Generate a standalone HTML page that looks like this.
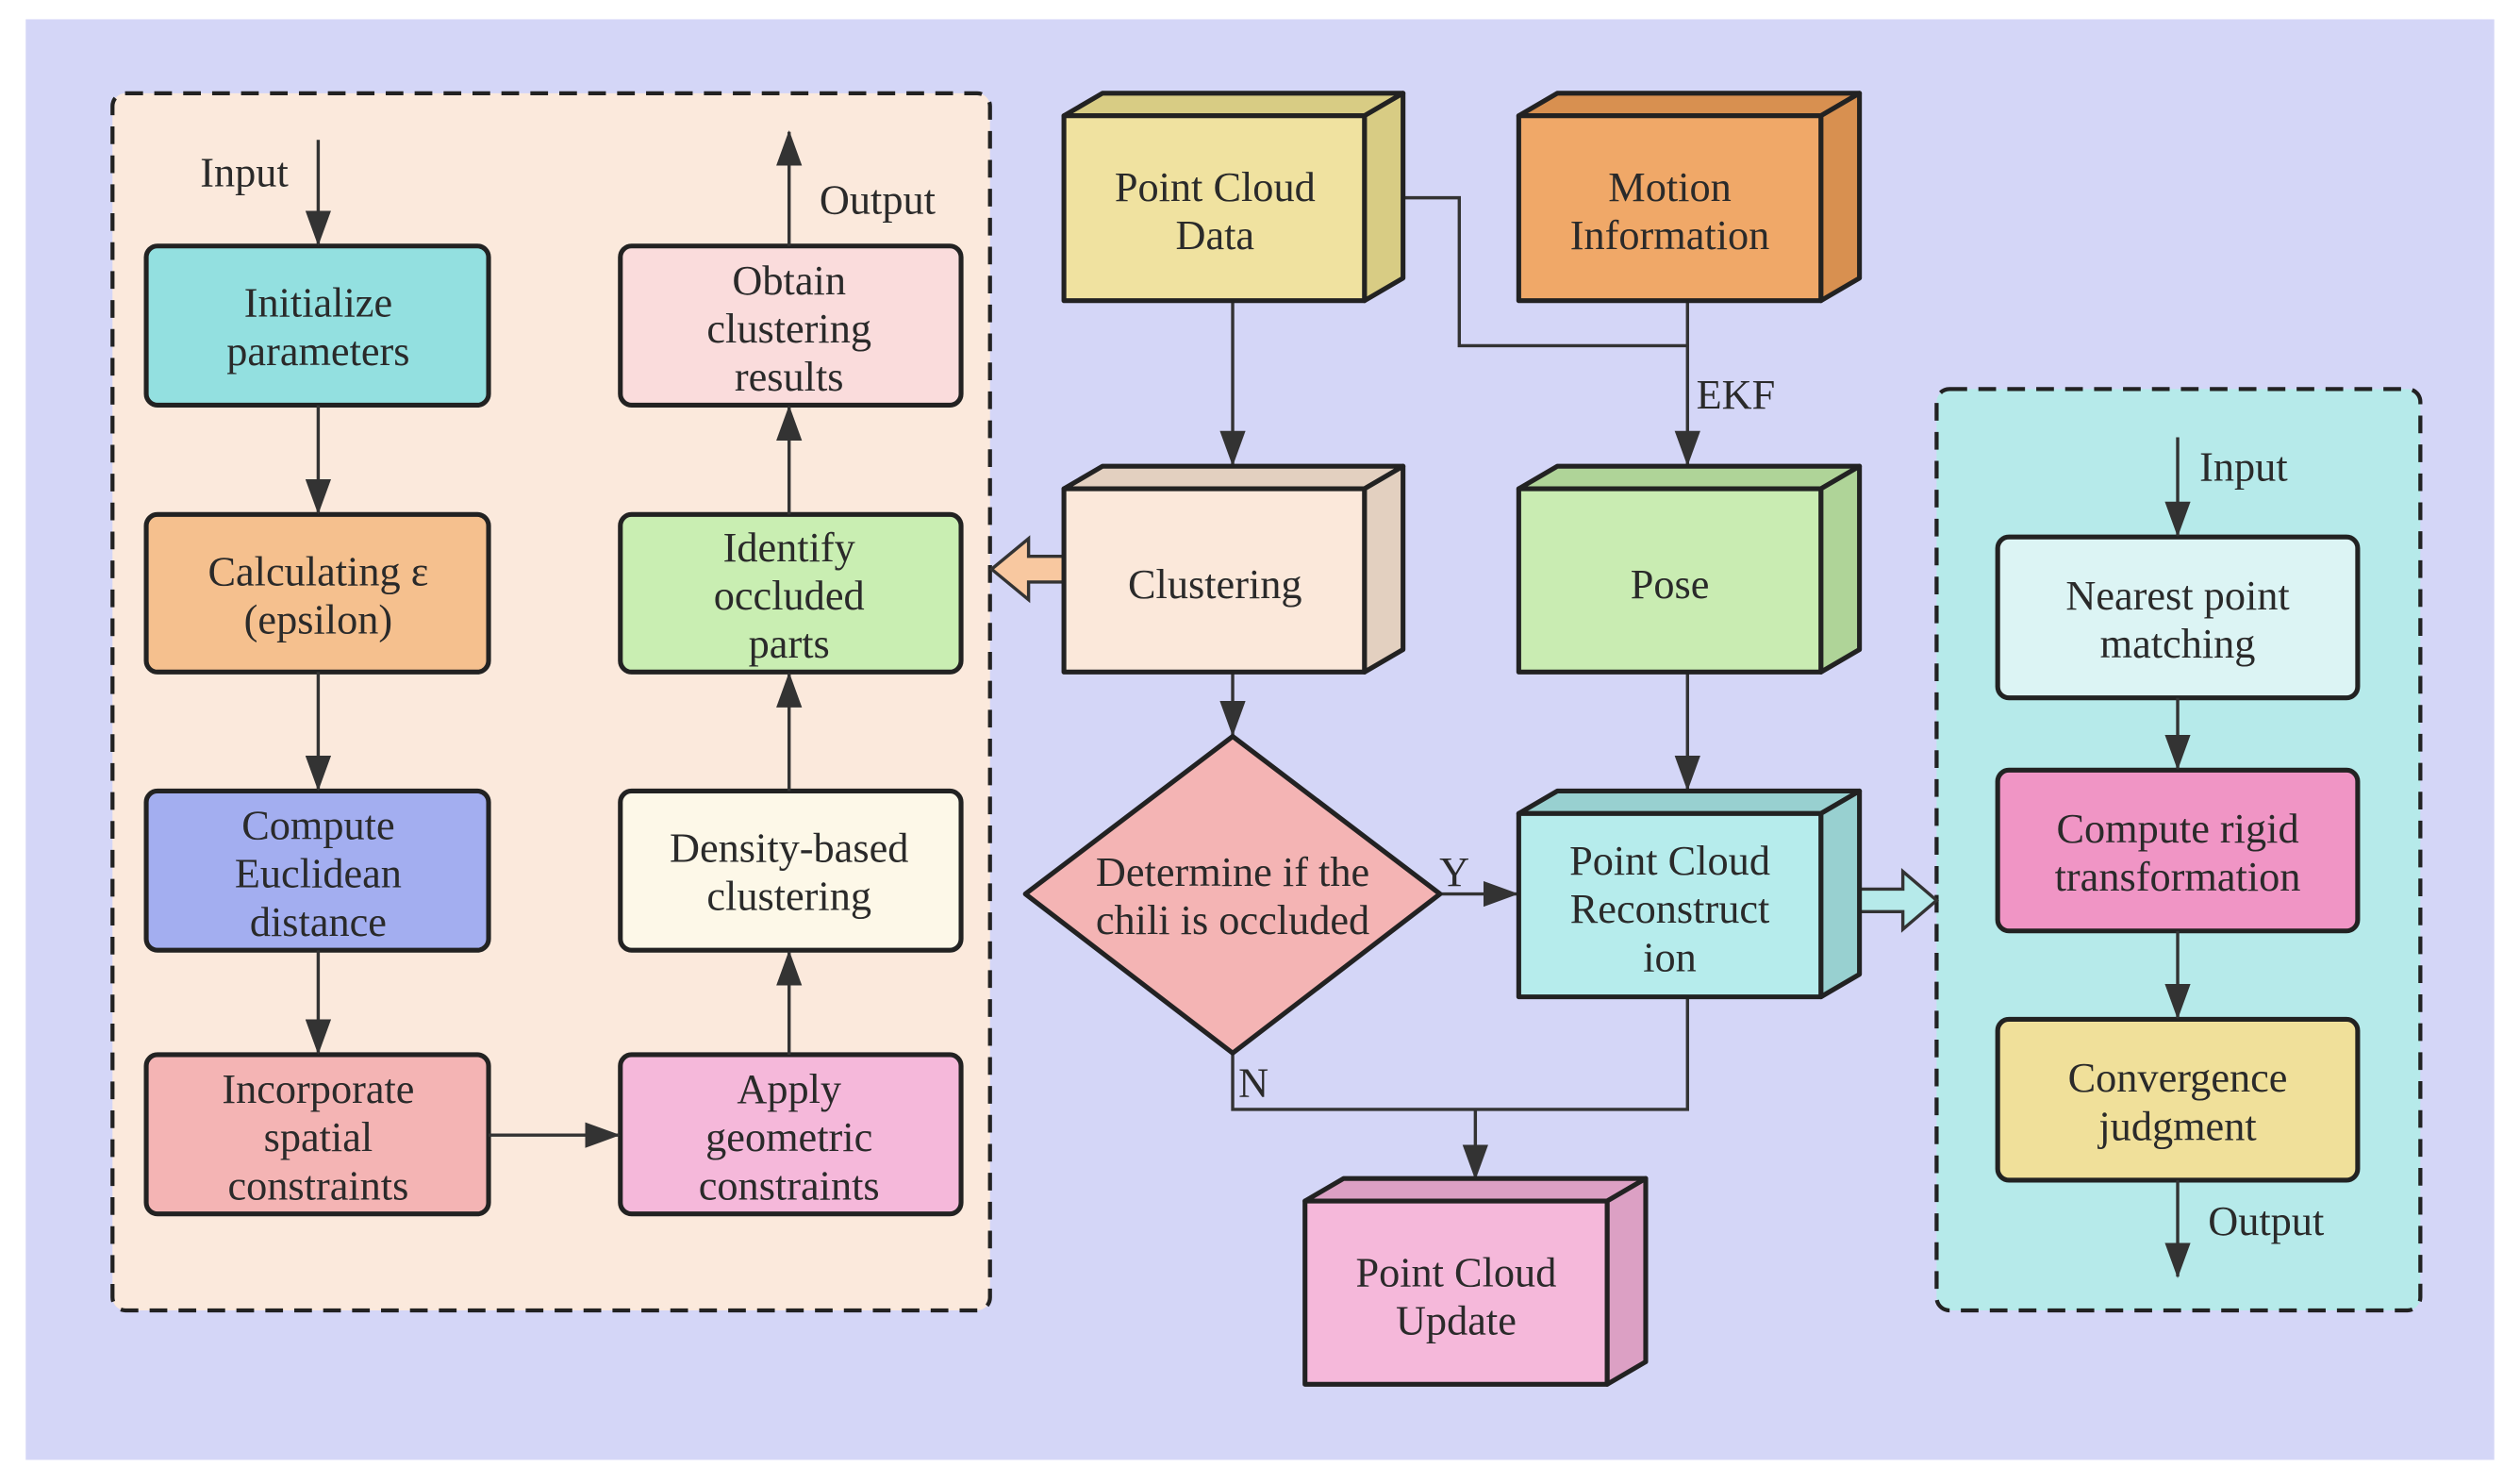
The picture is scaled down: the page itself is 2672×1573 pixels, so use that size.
<!DOCTYPE html>
<html><head><meta charset="utf-8"><style>
html,body{margin:0;padding:0;background:#fff;}
svg{display:block;}
text{font-family:"Liberation Serif",serif;font-size:26px;fill:#2a2a2a;text-anchor:middle;}
</style></head><body>
<svg width="2672" height="1573" viewBox="0 0 1568 923" preserveAspectRatio="none" xmlns="http://www.w3.org/2000/svg">
<defs>
<marker id="b" markerWidth="22" markerHeight="16" refX="21" refY="8" orient="auto" markerUnits="userSpaceOnUse" viewBox="0 0 22 16"><path d="M0,0 L22,8 L0,16 z" fill="#333"/></marker>
</defs>
<rect x="0" y="0" width="1568" height="923" fill="#fff"/>
<rect x="16" y="12" width="1536" height="896" fill="#d4d6f7"/>

<rect x="70" y="58" width="546" height="757" rx="8" fill="#fbe9dc" stroke="#222" stroke-width="2.5" stroke-dasharray="11,7"/>
<g stroke="#222" stroke-width="3">
<rect x="91" y="153" width="213" height="99" rx="7" fill="#93e0e0"/>
<rect x="91" y="320" width="213" height="98" rx="7" fill="#f5c08e"/>
<rect x="91" y="492" width="213" height="99" rx="7" fill="#a3aef0"/>
<rect x="91" y="656" width="213" height="99" rx="7" fill="#f4b4b4"/>
<rect x="386" y="153" width="212" height="99" rx="7" fill="#fadcdc"/>
<rect x="386" y="320" width="212" height="98" rx="7" fill="#c9eeb2"/>
<rect x="386" y="492" width="212" height="99" rx="7" fill="#fdf8e8"/>
<rect x="386" y="656" width="212" height="99" rx="7" fill="#f5b8da"/>
</g>
<g stroke="#333" stroke-width="2" fill="none">
<line x1="198" y1="87" x2="198" y2="152" marker-end="url(#b)"/>
<line x1="198" y1="252" x2="198" y2="319" marker-end="url(#b)"/>
<line x1="198" y1="418" x2="198" y2="491" marker-end="url(#b)"/>
<line x1="198" y1="591" x2="198" y2="655" marker-end="url(#b)"/>
<line x1="304" y1="706" x2="385" y2="706" marker-end="url(#b)"/>
<line x1="491" y1="656" x2="491" y2="592" marker-end="url(#b)"/>
<line x1="491" y1="492" x2="491" y2="419" marker-end="url(#b)"/>
<line x1="491" y1="320" x2="491" y2="253" marker-end="url(#b)"/>
<line x1="491" y1="153" x2="491" y2="82" marker-end="url(#b)"/>
</g>
<text x="152" y="116">Input</text>
<text x="546" y="133">Output</text>
<text x="198" y="197">Initialize</text><text x="198" y="227">parameters</text>
<text x="198" y="364">Calculating ε</text><text x="198" y="394">(epsilon)</text>
<text x="198" y="522">Compute</text><text x="198" y="552">Euclidean</text><text x="198" y="582">distance</text>
<text x="198" y="686">Incorporate</text><text x="198" y="716">spatial</text><text x="198" y="746">constraints</text>
<text x="491" y="183">Obtain</text><text x="491" y="213">clustering</text><text x="491" y="243">results</text>
<text x="491" y="349">Identify</text><text x="491" y="379">occluded</text><text x="491" y="409">parts</text>
<text x="491" y="536">Density-based</text><text x="491" y="566">clustering</text>
<text x="491" y="686">Apply</text><text x="491" y="716">geometric</text><text x="491" y="746">constraints</text>

<rect x="1205" y="242" width="301" height="573" rx="8" fill="#b6eaea" stroke="#222" stroke-width="2.5" stroke-dasharray="11,7"/>
<g stroke="#222" stroke-width="3">
<rect x="1243" y="334" width="224" height="100" rx="7" fill="#dcf4f4"/>
<rect x="1243" y="479" width="224" height="100" rx="7" fill="#f095c5"/>
<rect x="1243" y="634" width="224" height="100" rx="7" fill="#f0e09a"/>
</g>
<g stroke="#333" stroke-width="2" fill="none">
<line x1="1355" y1="272" x2="1355" y2="333" marker-end="url(#b)"/>
<line x1="1355" y1="434" x2="1355" y2="478" marker-end="url(#b)"/>
<line x1="1355" y1="579" x2="1355" y2="633" marker-end="url(#b)"/>
<line x1="1355" y1="734" x2="1355" y2="794" marker-end="url(#b)"/>
</g>
<text x="1396" y="299">Input</text>
<text x="1410" y="768">Output</text>
<text x="1355" y="379">Nearest point</text><text x="1355" y="409">matching</text>
<text x="1355" y="524">Compute rigid</text><text x="1355" y="554">transformation</text>
<text x="1355" y="679">Convergence</text><text x="1355" y="709">judgment</text>

<g stroke="#333" stroke-width="2" fill="none">
<line x1="767" y1="187" x2="767" y2="289" marker-end="url(#b)"/>
<polyline points="873,123 908,123 908,215 1050,215"/>
<line x1="1050" y1="187" x2="1050" y2="289" marker-end="url(#b)"/>
<line x1="767" y1="418" x2="767" y2="457" marker-end="url(#b)"/>
<line x1="896" y1="556" x2="944" y2="556" marker-end="url(#b)"/>
<line x1="1050" y1="418" x2="1050" y2="491" marker-end="url(#b)"/>
<polyline points="767,655 767,690 1050,690 1050,620"/>
<line x1="918" y1="690" x2="918" y2="733" marker-end="url(#b)"/>
</g>
<text x="1080" y="254">EKF</text>
<text x="905" y="551">Y</text>
<text x="780" y="682">N</text>

<path d="M662,346 L640,346 L640,335 L617,354 L640,373 L640,362 L662,362 Z" fill="#f8c8a0" stroke="#333" stroke-width="2"/>
<path d="M1157,553 L1184,553 L1184,542 L1205,560 L1184,578 L1184,567 L1157,567 Z" fill="#b6eaea" stroke="#333" stroke-width="2"/>

<g stroke="#222" stroke-width="3" stroke-linejoin="round">
<path d="M662,72 L686,58 L873,58 L849,72 Z" fill="#d8cc84"/><path d="M849,72 L873,58 L873,173 L849,187 Z" fill="#d8cc84"/><rect x="662" y="72" width="187" height="115" fill="#f0e2a0"/>
<path d="M945,72 L969,58 L1157,58 L1133,72 Z" fill="#d89050"/><path d="M1133,72 L1157,58 L1157,173 L1133,187 Z" fill="#d89050"/><rect x="945" y="72" width="188" height="115" fill="#f0a868"/>
<path d="M662,304 L686,290 L873,290 L849,304 Z" fill="#e3d0c0"/><path d="M849,304 L873,290 L873,404 L849,418 Z" fill="#e3d0c0"/><rect x="662" y="304" width="187" height="114" fill="#fbe8da"/>
<path d="M945,304 L969,290 L1157,290 L1133,304 Z" fill="#afd498"/><path d="M1133,304 L1157,290 L1157,404 L1133,418 Z" fill="#afd498"/><rect x="945" y="304" width="188" height="114" fill="#c9ecb2"/>
<path d="M945,506 L969,492 L1157,492 L1133,506 Z" fill="#98d0d0"/><path d="M1133,506 L1157,492 L1157,606 L1133,620 Z" fill="#98d0d0"/><rect x="945" y="506" width="188" height="114" fill="#b6ecec"/>
<path d="M812,747 L836,733 L1024,733 L1000,747 Z" fill="#dca0c4"/><path d="M1000,747 L1024,733 L1024,847 L1000,861 Z" fill="#dca0c4"/><rect x="812" y="747" width="188" height="114" fill="#f5b8da"/>
<path d="M767,458 L896,556 L767,655 L638,556 Z" fill="#f4b4b4"/>
</g>
<text x="756" y="125">Point Cloud</text><text x="756" y="155">Data</text>
<text x="1039" y="125">Motion</text><text x="1039" y="155">Information</text>
<text x="756" y="372">Clustering</text>
<text x="1039" y="372">Pose</text>
<text x="1039" y="544">Point Cloud</text><text x="1039" y="574">Reconstruct</text><text x="1039" y="604">ion</text>
<text x="906" y="800">Point Cloud</text><text x="906" y="830">Update</text>
<text x="767" y="551">Determine if the</text><text x="767" y="581">chili is occluded</text>
</svg>
</body></html>
